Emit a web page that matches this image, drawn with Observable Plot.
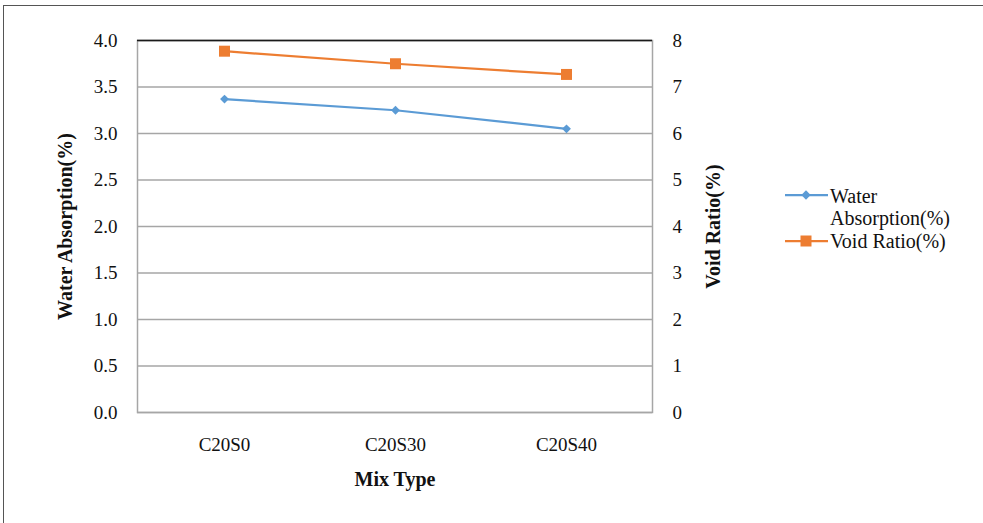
<!DOCTYPE html>
<html>
<head>
<meta charset="utf-8">
<script src="https://cdn.jsdelivr.net/npm/d3@7"></script>
<script src="https://cdn.jsdelivr.net/npm/@observablehq/plot@0.6"></script>
<style>
  html, body { margin: 0; padding: 0; background: #fff; }
  body { width: 983px; height: 523px; position: relative; overflow: hidden; font-family: "Liberation Serif", "Times New Roman", serif; }
  #frame { position: absolute; left: 3px; top: 5px; width: 1200px; height: 800px; border-left: 1px solid #555; border-top: 1px solid #555; }
  #chart { position: absolute; left: 0; top: 0; }
  #legend { position: absolute; left: 780px; top: 180px; }
</style>
</head>
<body>
<div id="frame"></div>
<div id="chart"></div>
<div id="legend"></div>
<script>
const categories = ["C20S0", "C20S30", "C20S40"];
const waterAbsorption = [3.37, 3.25, 3.05];
const voidRatio = [7.77, 7.50, 7.27];
const leftTicks = [0, 0.5, 1.0, 1.5, 2.0, 2.5, 3.0, 3.5, 4.0];
const rightTicks = [0, 1, 2, 3, 4, 5, 6, 7, 8];
const seriesNames = ["Water Absorption(%)", "Void Ratio(%)"];
const xTitle = ["Mix Type"];
const ratio = rightTicks[rightTicks.length - 1] / leftTicks[leftTicks.length - 1];

const blue = "#5B9BD5";
const orange = "#ED7D31";

const rows = categories.map((c, i) => ({mix: c, water: waterAbsorption[i], void: voidRatio[i]}));

const chart = Plot.plot({
  width: 983,
  height: 523,
  marginLeft: 137,
  marginRight: 331,
  marginTop: 40,
  marginBottom: 111,
  style: {fontFamily: "'Liberation Serif', 'Times New Roman', serif", fontSize: "19px", color: "#111", background: "transparent", overflow: "visible"},
  x: {type: "point", domain: categories, padding: 0.5, axis: null},
  y: {domain: [leftTicks[0], leftTicks[leftTicks.length - 1]], axis: null},
  marks: [
    Plot.gridY(leftTicks, {stroke: "#a6a6a6", strokeOpacity: 1, strokeWidth: 1.5}),
    Plot.frame({stroke: "#a6a6a6", strokeWidth: 1.5}),
    Plot.ruleY([leftTicks[leftTicks.length - 1]], {stroke: "#1a1a1a", strokeWidth: 1.5}),
    Plot.line(rows, {x: "mix", y: "water", stroke: blue, strokeWidth: 2.25}),
    Plot.dot(rows, {x: "mix", y: "water", symbol: "diamond2", r: 4, fill: blue}),
    Plot.line(rows, {x: "mix", y: d => d.void / ratio, stroke: orange, strokeWidth: 2.25}),
    Plot.dot(rows, {x: "mix", y: d => d.void / ratio, symbol: "square", r: 6.2, fill: orange}),
    Plot.axisY({ticks: leftTicks, tickFormat: d3.format(".1f"), tickSize: 0, tickPadding: 20, label: null}),
    Plot.axisY({anchor: "right", ticks: rightTicks.map(t => t / ratio), tickFormat: d => d3.format("d")(d * ratio), tickSize: 0, tickPadding: 20, label: null}),
    Plot.axisX({tickSize: 0, tickPadding: 25, label: null}),
    Plot.text([seriesNames[0]], {frameAnchor: "left", dx: -72, rotate: -90, textAnchor: "middle", fontWeight: "bold", fontSize: 20}),
    Plot.text([seriesNames[1]], {frameAnchor: "right", dx: 61, rotate: -90, textAnchor: "middle", fontWeight: "bold", fontSize: 20}),
    Plot.text(xTitle, {frameAnchor: "bottom", dy: 73, fontWeight: "bold", fontSize: 20})
  ]
});
document.getElementById("chart").appendChild(chart);

// Legend
const lg = d3.select("#legend").append("svg").attr("width", 200).attr("height", 80)
  .style("font-family", "'Liberation Serif', 'Times New Roman', serif").style("font-size", "20px");
const items = [
  {color: blue, symbol: d3.symbolDiamond2, size: 56, ly: 15, lines: ["Water", "Absorption(%)"], ty: [23, 45]},
  {color: orange, symbol: d3.symbolSquare, size: 121, ly: 61, lines: ["Void Ratio(%)"], ty: [68]}
];
items.forEach(it => {
  lg.append("line").attr("x1", 5).attr("x2", 48).attr("y1", it.ly).attr("y2", it.ly)
    .attr("stroke", it.color).attr("stroke-width", 2.25);
  lg.append("path").attr("d", d3.symbol(it.symbol, it.size)())
    .attr("transform", `translate(26,${it.ly})`).attr("fill", it.color);
  it.lines.forEach((t, j) => {
    lg.append("text").attr("x", 50).attr("y", it.ty[j]).attr("fill", "#111").text(t);
  });
});
</script>
</body>
</html>
